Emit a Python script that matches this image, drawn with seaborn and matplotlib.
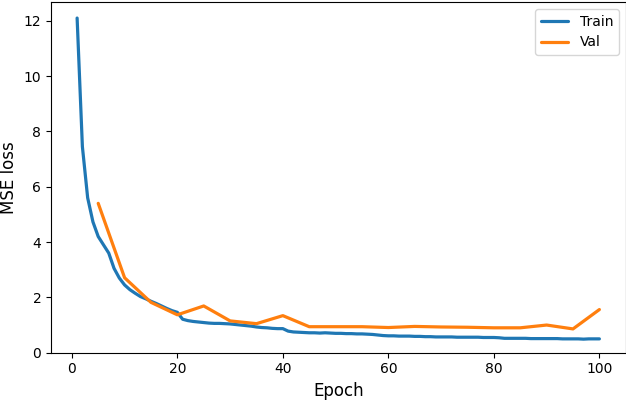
import numpy as np
import pandas as pd

import seaborn as sns
import matplotlib
matplotlib.use("Agg")
import matplotlib.pyplot as plt

train_epochs = list(range(1, 101))
train_loss = [
    12.1, 7.45, 5.6, 4.73, 4.2, 3.9, 3.6, 3.05, 2.7, 2.45,
    2.28, 2.15, 2.03, 1.95, 1.86, 1.78, 1.69, 1.6, 1.52, 1.46,
    1.21, 1.16, 1.13, 1.11, 1.09, 1.07, 1.06, 1.06, 1.05, 1.04,
    1.02, 1.00, 0.98, 0.96, 0.93, 0.91, 0.90, 0.88, 0.87, 0.87,
    0.78, 0.75, 0.74, 0.73, 0.72, 0.72, 0.71, 0.72, 0.71, 0.70,
    0.70, 0.69, 0.69, 0.68, 0.68, 0.67, 0.66, 0.64, 0.62, 0.61,
    0.61, 0.60, 0.60, 0.60, 0.59, 0.59, 0.58, 0.58, 0.57, 0.57,
    0.57, 0.57, 0.56, 0.56, 0.56, 0.56, 0.56, 0.55, 0.55, 0.55,
    0.54, 0.52, 0.52, 0.52, 0.52, 0.52, 0.51, 0.51, 0.51, 0.51,
    0.51, 0.51, 0.50, 0.50, 0.50, 0.50, 0.49, 0.50, 0.50, 0.50,
]

val_epochs = list(range(5, 101, 5))
val_loss = [
    5.40, 2.71, 1.82, 1.37, 1.69, 1.15, 1.05, 1.34, 0.94, 0.94,
    0.94, 0.91, 0.95, 0.93, 0.92, 0.90, 0.90, 1.00, 0.86, 1.56,
]

train_df = pd.DataFrame({"Epoch": train_epochs, "loss": train_loss})
val_df = pd.DataFrame({"Epoch": val_epochs, "loss": val_loss})

sns.set_style("ticks", {"axes.edgecolor": "black", "xtick.color": "black", "ytick.color": "black",
                        "text.color": "black", "axes.labelcolor": "black"})
plt.rcParams['font.family'] = ['DejaVu Sans']

fig, ax = plt.subplots(figsize=(6.26, 4.0), dpi=100)
fig.subplots_adjust(left=51 / 626, right=625.5 / 626, top=1 - 2 / 400, bottom=1 - 352.7 / 400)

sns.lineplot(data=train_df, x="Epoch", y="loss", ax=ax, color="#1f77b4", linewidth=2.3, label="Train")
sns.lineplot(data=val_df, x="Epoch", y="loss", ax=ax, color="#ff7f0e", linewidth=2.3, label="Val")

ax.set_ylim(bottom=0)
ax.set_xlabel("Epoch", fontsize=12)
ax.set_ylabel("MSE loss", fontsize=12)
ax.tick_params(labelsize=10)
ax.legend(loc="upper right", fontsize=10)

fig.savefig("out.png", dpi=100)
